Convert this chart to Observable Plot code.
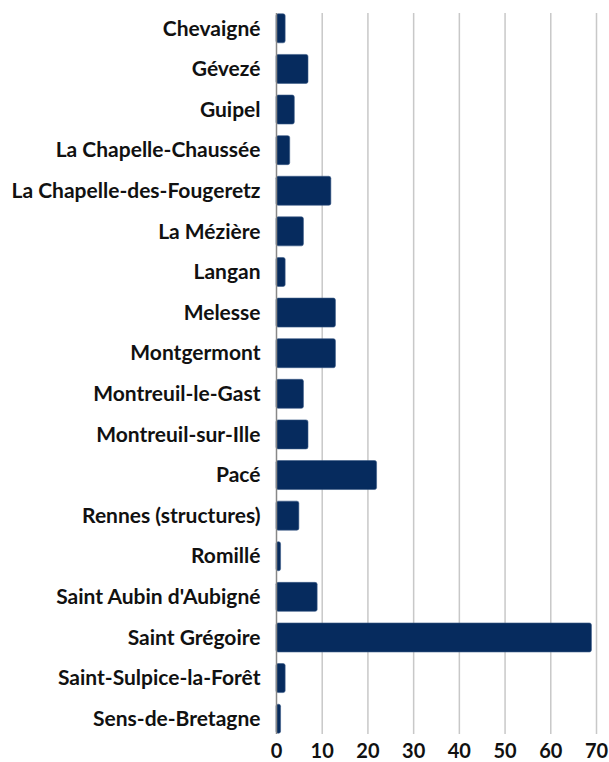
<!DOCTYPE html>
<html>
<head>
<meta charset="utf-8">
<script src="https://cdn.jsdelivr.net/npm/d3@7"></script>
<script src="https://cdn.jsdelivr.net/npm/@observablehq/plot@0.6"></script>
<style>
  body { margin: 0; background: #fff; }
  #chart svg { display: block; }
</style>
</head>
<body>
<div id="chart"></div>
<script>
const communes = [
  "Chevaigné", "Gévezé", "Guipel", "La Chapelle-Chaussée", "La Chapelle-des-Fougeretz",
  "La Mézière", "Langan", "Melesse", "Montgermont", "Montreuil-le-Gast",
  "Montreuil-sur-Ille", "Pacé", "Rennes (structures)", "Romillé", "Saint Aubin d'Aubigné",
  "Saint Grégoire", "Saint-Sulpice-la-Forêt", "Sens-de-Bretagne"
];
const valeurs = [2, 7, 4, 3, 12, 6, 2, 13, 13, 6, 7, 22, 5, 1, 9, 69, 2, 1];
const xTicks = [0, 10, 20, 30, 40, 50, 60, 70];

const data = communes.map((c, i) => ({commune: c, valeur: valeurs[i]}));

const chart = Plot.plot({
  width: 609,
  height: 762,
  marginLeft: 276,
  marginRight: 13,
  marginTop: 13,
  marginBottom: 28,
  style: {fontFamily: "Lato", fontSize: "18px", fontWeight: "bold", color: "#111"},
  x: {domain: [0, 70], ticks: xTicks, label: null},
  y: {domain: communes, paddingInner: 0.286, paddingOuter: 0.02, round: false, label: null},
  marks: [
    Plot.gridX(xTicks.filter(d => d > 0), {stroke: "#c8c8c8", strokeOpacity: 1, strokeWidth: 1.5}),
    Plot.barX(data, {x: "valeur", y: "commune", fill: "#062b5e", stroke: "#3b5a86", strokeWidth: 0.6, rx: 2}),
    Plot.ruleX([0], {stroke: "#888", strokeWidth: 1.5}),
    Plot.axisY({tickSize: 0, tickPadding: 16, fontSize: 21, fontWeight: "bold", fill: "#111", label: null}),
    Plot.axisX({ticks: xTicks, tickSize: 0, tickPadding: 9, fontSize: 20, fontWeight: "bold", fill: "#111", label: null})
  ]
});
document.getElementById("chart").appendChild(chart);
</script>
</body>
</html>
